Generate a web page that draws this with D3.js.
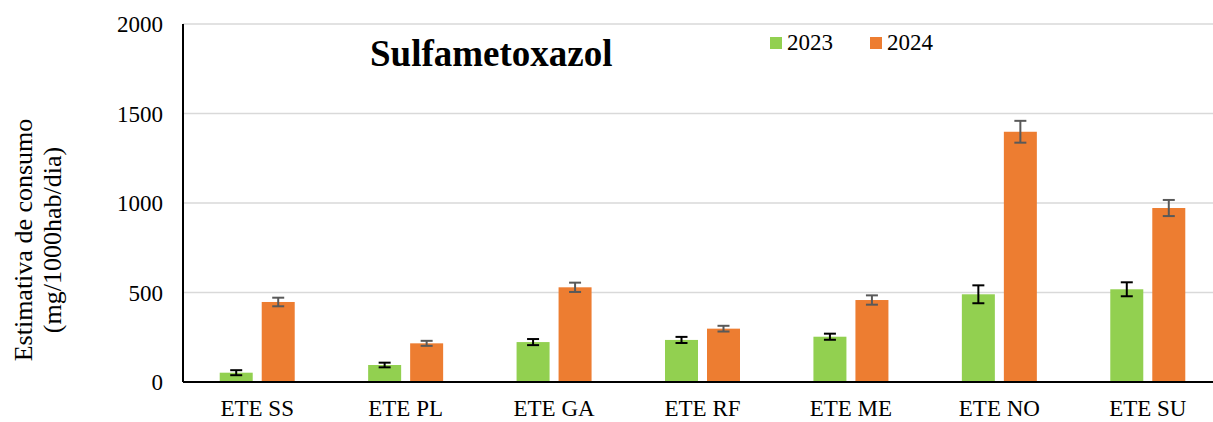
<!DOCTYPE html>
<meta charset="utf-8">
<script src="https://d3js.org/d3.v7.min.js"></script>
<style>
  body { margin: 0; background: #fff; }
  svg text { font-family: 'Liberation Serif', 'Times New Roman', serif; }
</style>
<div id="chart"></div>
<script>
  // data
  var categories = ["ETE SS", "ETE PL", "ETE GA", "ETE RF", "ETE ME", "ETE NO", "ETE SU"];
  var series = ["2023", "2024"];
  var values2023 = [52, 95, 223, 235, 253, 490, 518];
  var values2024 = [447, 216, 529, 298, 458, 1398, 972];
  var err2023 = [14, 13, 17, 17, 17, 50, 39];
  var err2024 = [24, 14, 26, 16, 26, 61, 45];
  var yTicks = [0, 500, 1000, 1500, 2000];

  var colors = {"2023": "#92d050", "2024": "#ed7d31"};
  var errColors = {"2023": "#000000", "2024": "#595959"};

  var W = 1213, H = 422;
  var margin = {top: 24, left: 183};
  var plotW = 1039, plotH = 358;

  var svg = d3.select("#chart").append("svg")
      .attr("width", W)
      .attr("height", H);

  var g = svg.append("g")
      .attr("transform", "translate(" + margin.left + "," + margin.top + ")");

  var x = d3.scaleBand()
    .domain(categories)
    .range([0, plotW]);

  var y = d3.scaleLinear()
    .domain([0, 2000])
    .range([plotH, 0]);

  var barW = 33, gap = 9;
  var xs = d3.scaleOrdinal()
    .domain(series)
    .range([-(gap / 2 + barW), gap / 2]);

  // gridlines
  g.selectAll(".grid")
    .data(yTicks.filter(function(d) { return d > 0; }))
    .enter().append("line")
      .attr("x1", 0)
      .attr("x2", plotW)
      .attr("y1", function(d) { return y(d); })
      .attr("y2", function(d) { return y(d); })
      .attr("stroke", "#d9d9d9")
      .attr("stroke-width", 1.5);

  // y tick labels
  g.selectAll(".ytick")
    .data(yTicks)
    .enter().append("text")
      .attr("x", -20)
      .attr("y", function(d) { return y(d); })
      .attr("dy", "0.35em")
      .attr("text-anchor", "end")
      .style("font-size", "23px")
      .text(function(d) { return d; });

  // bars
  var rows = [];
  categories.forEach(function(c, i) {
    rows.push({cat: c, s: "2023", v: values2023[i], e: err2023[i]});
    rows.push({cat: c, s: "2024", v: values2024[i], e: err2024[i]});
  });

  g.selectAll(".bar")
    .data(rows)
    .enter().append("rect")
      .attr("x", function(d) { return x(d.cat) + x.bandwidth() / 2 + xs(d.s); })
      .attr("y", function(d) { return y(d.v); })
      .attr("width", barW)
      .attr("height", function(d) { return plotH - y(d.v); })
      .attr("fill", function(d) { return colors[d.s]; });

  // error bars
  var eb = g.selectAll(".err")
    .data(rows)
    .enter().append("g")
      .attr("stroke", function(d) { return errColors[d.s]; })
      .attr("stroke-width", 2);

  function cx(d) { return x(d.cat) + x.bandwidth() / 2 + xs(d.s) + barW / 2; }

  eb.append("line")
    .attr("x1", cx).attr("x2", cx)
    .attr("y1", function(d) { return y(d.v + d.e); })
    .attr("y2", function(d) { return y(d.v - d.e); });
  eb.append("line")
    .attr("x1", function(d) { return cx(d) - 6; })
    .attr("x2", function(d) { return cx(d) + 6; })
    .attr("y1", function(d) { return y(d.v + d.e); })
    .attr("y2", function(d) { return y(d.v + d.e); });
  eb.append("line")
    .attr("x1", function(d) { return cx(d) - 6; })
    .attr("x2", function(d) { return cx(d) + 6; })
    .attr("y1", function(d) { return y(d.v - d.e); })
    .attr("y2", function(d) { return y(d.v - d.e); });

  // axes lines
  g.append("line")
    .attr("x1", 0).attr("x2", 0)
    .attr("y1", 0).attr("y2", plotH)
    .attr("stroke", "#000").attr("stroke-width", 2);
  g.append("line")
    .attr("x1", 0).attr("x2", plotW)
    .attr("y1", plotH).attr("y2", plotH)
    .attr("stroke", "#000").attr("stroke-width", 2);

  // category labels
  g.selectAll(".xlab")
    .data(categories)
    .enter().append("text")
      .attr("x", function(d) { return x(d) + x.bandwidth() / 2; })
      .attr("y", plotH + 34)
      .attr("text-anchor", "middle")
      .style("font-size", "23px")
      .text(function(d) { return d; });

  // y axis title
  var yt = svg.append("text")
    .attr("transform", "translate(0,240) rotate(-90)")
    .attr("text-anchor", "middle")
    .style("font-size", "26px");
  yt.append("tspan").attr("x", 0).attr("y", 32).text("Estimativa de consumo");
  yt.append("tspan").attr("x", 0).attr("y", 61).text("(mg/1000hab/dia)");

  // title
  svg.append("text")
    .attr("x", 370)
    .attr("y", 66)
    .style("font-size", "37px")
    .style("font-weight", "bold")
    .text("Sulfametoxazol");

  // legend
  var legX = [770, 870];
  series.forEach(function(s, i) {
    svg.append("rect")
      .attr("x", legX[i]).attr("y", 37)
      .attr("width", 12).attr("height", 12)
      .attr("fill", colors[s]);
    svg.append("text")
      .attr("x", legX[i] + 17).attr("y", 50)
      .style("font-size", "23px")
      .text(s);
  });
</script>
